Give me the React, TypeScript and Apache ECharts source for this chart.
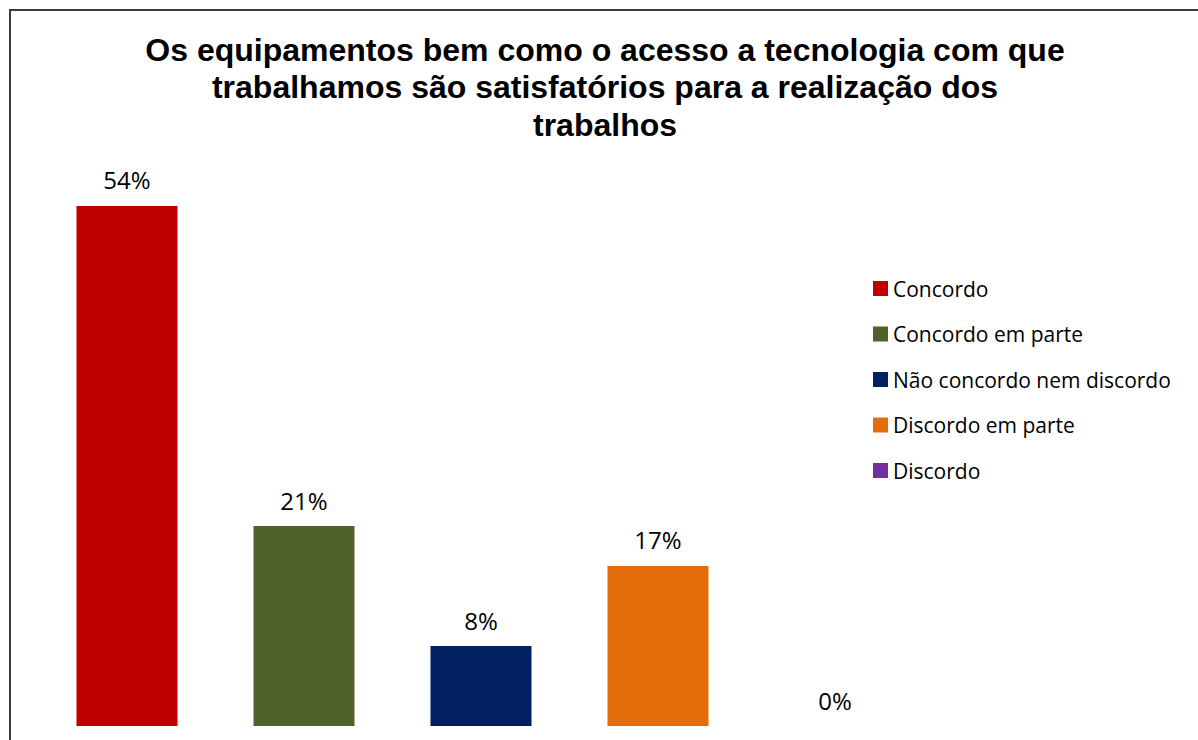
import React, { useEffect, useRef } from "react";
import * as echarts from "echarts";

const categories = ["Concordo", "Concordo em parte", "Não concordo nem discordo", "Discordo em parte", "Discordo"];
const values = [54.17, 20.83, 8.33, 16.67, 0];
const colors = ["#C00000", "#4F6228", "#002060", "#E46C0A", "#7030A0"];
const titleText = "Os equipamentos bem como o acesso a tecnologia com que\ntrabalhamos são satisfatórios para a realização dos\ntrabalhos";

export default function App() {
  const ref = useRef<HTMLDivElement>(null);
  useEffect(() => {
    if (!ref.current) return;
    const chart = echarts.init(ref.current, null, { renderer: "svg" });
    const series = categories.map((name, i) => ({
      name,
      type: "bar",
      barWidth: 101,
      barGap: "-100%",
      itemStyle: { color: colors[i] },
      label: {
        show: true,
        position: "top",
        distance: 14,
        fontFamily: "Open Sans",
        fontSize: 24,
        color: "#000",
        formatter: (p: any) => `${Math.round(p.value)}%`,
      },
      data: categories.map((_, j) => (j === i ? values[i] : "-")),
    }));
    chart.setOption({
      animation: false,
      backgroundColor: "#fff",
      graphic: [
        {
          type: "rect",
          shape: { x: 10, y: 10, width: 1300, height: 800 },
          style: { fill: "none", stroke: "#3a3a3a", lineWidth: 2 },
          silent: true,
        },
        {
          type: "text",
          x: 605,
          y: 31,
          style: {
            text: titleText,
            textAlign: "center",
            textVerticalAlign: "top",
            fontFamily: "Liberation Sans",
            fontWeight: "bold",
            fontSize: 32,
            lineHeight: 37.5,
            fill: "#000",
          },
        },
      ],
      legend: {
        orient: "vertical",
        left: 868,
        top: 273,
        itemWidth: 15,
        itemHeight: 15,
        itemGap: 24.5,
        icon: "rect",
        data: categories,
        textStyle: { fontFamily: "Open Sans", fontSize: 21, color: "#000" },
      },
      grid: { left: 38.5, width: 885, top: 150, bottom: 14, containLabel: false },
      xAxis: {
        type: "category",
        data: categories,
        show: false,
      },
      yAxis: { type: "value", min: 0, max: 60, show: false },
      series,
    });
    return () => chart.dispose();
  }, []);
  return <div ref={ref} style={{ position: "fixed", left: 0, top: 0, width: 1198, height: 740 }} />;
}
